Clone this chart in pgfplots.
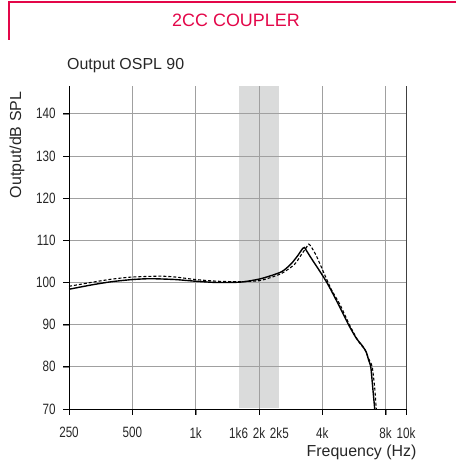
\documentclass[border=0pt]{standalone}
\usepackage{fontspec}
\setmainfont{Liberation Sans}
\newfontfamily\narrowfont[FakeStretch=0.78]{Liberation Sans}
\usepackage{pgfplots}
\pgfplotsset{compat=1.18}
\definecolor{crimson}{RGB}{227,6,73}
\definecolor{bandgray}{RGB}{218,219,219}
\definecolor{gridgray}{RGB}{160,160,160}
\begin{document}
\begin{tikzpicture}
\draw[crimson, line width=1.3bp] (9bp,423bp) -- (9bp,461bp) -- (456bp,461bp);
\node[crimson, font=\fontsize{18}{20}\selectfont] at (236bp,443bp) {2CC COUPLER};
\node[anchor=west, inner sep=0pt, font=\fontsize{16}{19}\selectfont, text=black!85] at (67bp,397bp) {Output OSPL 90};
\node[rotate=90, inner sep=0pt, font=\fontsize{16}{19}\selectfont, text=black!85] at (17bp,318bp) {Output/dB SPL};
\begin{axis}[
  at={(69bp,54bp)}, anchor=south west,
  scale only axis, width=337bp, height=323bp,
  xmode=log, xmin=250, xmax=10000, ymin=70, ymax=146.6,
  axis line style={draw=none},
  xtick pos=lower, ytick pos=left,
  xtick={250,500,1000,2000,4000,8000,10000},
  xticklabels={250,500,1k,2k,4k,8k,10k},
  extra x ticks={1600,2500},
  extra x tick labels={1k6,2k5},
  extra x tick style={grid=none, major tick length=0pt, xticklabel style={yshift=-6bp}},
  ytick={70,80,90,100,110,120,130,140},
  tick align=outside,
  major tick length=6bp,
  xmajorgrids, ymajorgrids,
  major grid style={gridgray, line width=0.9bp},
  /pgf/number format/assume math mode=true,
  ticklabel style={font=\narrowfont\fontsize{15}{15}\selectfont, text=black!85},
  xticklabel style={yshift=-9bp},
  yticklabel style={xshift=-4bp},
  xlabel={Frequency (Hz)},
  xlabel style={at={(axis description cs:1,0)}, anchor=north east, yshift=-32bp, xshift=14bp, font=\fontsize{16}{19}\selectfont, text=black!85},
  clip=false,
]
\fill[bandgray] (axis cs:1600,70.3) rectangle (axis cs:2500,146.6);
\draw[gridgray, line width=0.9bp] (axis cs:2000,70) -- (axis cs:2000,146.6);
\draw[gridgray, line width=0.9bp] (axis cs:1600,100) -- (axis cs:2500,100);
\draw[gridgray, line width=0.9bp] (axis cs:1600,110) -- (axis cs:2500,110);
\draw[gridgray, line width=0.9bp] (axis cs:1600,90) -- (axis cs:2500,90);
\draw[gridgray, line width=0.9bp] (axis cs:1600,80) -- (axis cs:2500,80);
\draw[gridgray, line width=0.9bp] (axis cs:1600,120) -- (axis cs:2500,120);
\draw[gridgray, line width=0.9bp] (axis cs:1600,130) -- (axis cs:2500,130);
\draw[gridgray, line width=0.9bp] (axis cs:1600,140) -- (axis cs:2500,140);
\draw[black!75, line width=1bp] (axis cs:10000,70) -- (axis cs:10000,146.6);
\draw[black, line width=1bp] (axis cs:250,146.6) -- (axis cs:250,70) -- (axis cs:10000,70);
% tick marks
\pgfplotsinvokeforeach{250,500,1000,2000,4000,8000,10000}{
  \draw[black, line width=0.9bp] (axis cs:#1,70) -- ([yshift=-6bp]axis cs:#1,70);
}
\pgfplotsinvokeforeach{70,80,90,100,110,120,130,140}{
  \draw[black, line width=0.9bp] (axis cs:250,#1) -- ([xshift=-6bp]axis cs:250,#1);
}
% dashed series
\addplot[black, line width=1.1bp, dash pattern=on 3bp off 2bp, smooth, tension=0.4] coordinates {
(250,99.1) (326,100.1) (400,100.8) (500,101.3) (680,101.5) (800,101.3) (1000,100.7)
(1270,100.3) (1640,100.2) (2040,100.5) (2550,102.1) (2950,104.3) (3200,106.8)
(3360,108.3) (3450,109.1) (3550,108.4) (3750,106.3) (4100,101.9) (4420,98.3)
(4850,94.8) (5380,90.0) (5950,86.0) (6400,84.0) (6560,82.6) (6750,81.2)
(6910,80.0) (7100,75.0) (7220,70.0)
};
% solid series
\addplot[black, line width=1.4bp, smooth, tension=0.4] coordinates {
(250,98.4) (326,99.5) (400,100.2) (500,100.7) (610,100.9) (800,100.7) (1000,100.3)
(1270,100.0) (1640,100.1) (2040,100.9) (2550,102.5) (2840,104.4) (3050,106.3)
(3230,108.1) (3290,108.3) (3360,107.6) (3540,105.8) (3960,102.1) (4260,99.5)
(4750,95.0) (5330,90.0) (5800,86.8) (6200,85.0) (6480,83.4) (6650,81.5)
(6800,80.0) (6950,75.0) (7100,70.0)
};
\end{axis}
\pgfresetboundingbox
\useasboundingbox (0,0) rectangle (456bp,463bp);
\end{tikzpicture}
\end{document}
